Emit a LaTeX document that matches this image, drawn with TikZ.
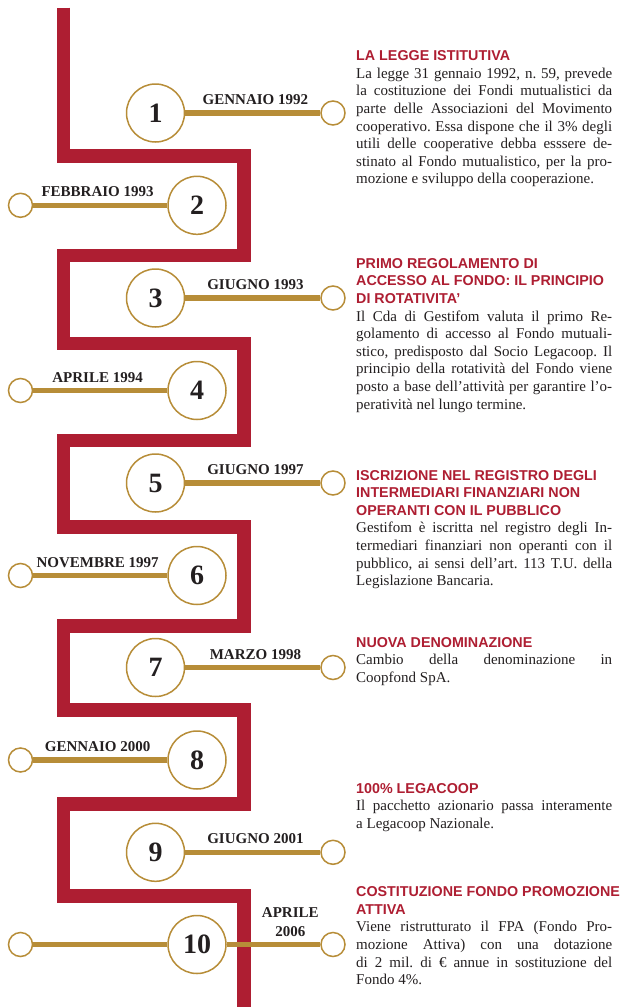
\documentclass[tikz,border=0pt]{standalone}
\usepackage{fontspec}
\setmainfont{Liberation Serif}
\newfontfamily\headfont{Liberation Sans}
\usepackage{tikz}
\usetikzlibrary{positioning}

\definecolor{coopred}{RGB}{174,30,50}
\definecolor{coopgold}{RGB}{183,141,56}
\definecolor{ink}{RGB}{35,31,32}
\newcommand{\evtitle}[1]{{\headfont\bfseries\fontsize{14.3}{17.6}\selectfont\color{coopred}#1}}
\frenchspacing

\begin{document}
\begin{tikzpicture}[x=1pt,y=-1pt,
      numcircle/.style={circle,draw=coopgold,line width=1.5pt,fill=white,
        minimum size=58pt,inner sep=0pt,text=ink,
        font=\fontsize{28}{28}\selectfont\bfseries},
      enddot/.style={circle,draw=coopgold,line width=1.5pt,fill=white,
        minimum size=24pt,inner sep=0pt},
      dateline/.style={draw=coopgold,line width=5.5pt},
      datelabel/.style={font=\fontsize{15}{19}\selectfont\bfseries,text=ink,
        inner sep=0pt,above=5.5pt,pos=0.52},
      event/.style={anchor=base west,text width=256pt,align=justify,inner sep=0pt,
        text=ink,font=\fontsize{15}{17.6}\selectfont,
        execute at begin node={\frenchspacing\tolerance=10000\hyphenpenalty=10000}}]
      \useasboundingbox (0,0) rectangle (627,1007);
      % the red path
      \draw[coopred,line width=13.5pt]
        (63.5,7.5) -- (63.5,156) -- (244,156) -- (244,255.3) -- (63.5,255.3)
        -- (63.5,343.3) -- (244,343.3) -- (244,440.3) -- (63.5,440.3)
        -- (63.5,527) -- (244,527) -- (244,626) -- (63.5,626)
        -- (63.5,710) -- (244,710) -- (244,804) -- (63.5,804)
        -- (63.5,896) -- (244,896) -- (244,1007);
      % steps
      \node[numcircle] (n1) at (155.5,113) {1};
      \node[enddot] (d1) at (333,113) {};
      \node[numcircle] (n2) at (197,205.3) {2};
      \node[enddot] (d2) at (20.5,205.3) {};
      \node[numcircle] (n3) at (155.5,298) {3};
      \node[enddot] (d3) at (333,298) {};
      \node[numcircle] (n4) at (197,390.5) {4};
      \node[enddot] (d4) at (20.5,390.5) {};
      \node[numcircle] (n5) at (155.5,483) {5};
      \node[enddot] (d5) at (333,483) {};
      \node[numcircle] (n6) at (197,575.5) {6};
      \node[enddot] (d6) at (20.5,575.5) {};
      \node[numcircle] (n7) at (155.5,667.5) {7};
      \node[enddot] (d7) at (333,667.5) {};
      \node[numcircle] (n8) at (197,760) {8};
      \node[enddot] (d8) at (20.5,760) {};
      \node[numcircle] (n9) at (155.5,852.3) {9};
      \node[enddot] (d9) at (333,852.3) {};
      \node[numcircle] (n10) at (197,944.5) {10};
      \node[enddot] (d10a) at (20.5,944.5) {};
      \node[enddot] (d10b) at (333,944.5) {};
      \path
        (n1) edge[dateline] node[datelabel] {GENNAIO 1992} (d1)
        (n2) edge[dateline] node[datelabel] {FEBBRAIO 1993} (d2)
        (n3) edge[dateline] node[datelabel] {GIUGNO 1993} (d3)
        (n4) edge[dateline] node[datelabel] {APRILE 1994} (d4)
        (n5) edge[dateline] node[datelabel] {GIUGNO 1997} (d5)
        (n6) edge[dateline] node[datelabel] {NOVEMBRE 1997} (d6)
        (n7) edge[dateline] node[datelabel] {MARZO 1998} (d7)
        (n8) edge[dateline] node[datelabel] {GENNAIO 2000} (d8)
        (n9) edge[dateline] node[datelabel] {GIUGNO 2001} (d9)
        (n10) edge[dateline] (d10a)
        (n10) edge[dateline] node[datelabel,align=center,pos=0.68] {APRILE\\2006} (d10b);
      % texts
      \node[event] (e1) at (356,60.7) {\evtitle{LA LEGGE ISTITUTIVA}\\
        La legge 31 gennaio 1992, n. 59, prevede\linebreak
        la costituzione dei Fondi mutualistici da\linebreak
        parte delle Associazioni del Movimento\linebreak
        cooperativo. Essa dispone che il 3\% degli\linebreak
        utili delle cooperative debba esssere de-\linebreak
        stinato al Fondo mutualistico, per la pro-\linebreak
        mozione e sviluppo della cooperazione.};
      \node[event] (e2) at (356,268.3) {\evtitle{PRIMO REGOLAMENTO DI\\
        ACCESSO AL FONDO: IL PRINCIPIO\\DI ROTATIVITA’}\\
        Il Cda di Gestifom valuta il primo Re-\linebreak
        golamento di accesso al Fondo mutuali-\linebreak
        stico, predisposto dal Socio Legacoop. Il\linebreak
        principio della rotatività del Fondo viene\linebreak
        posto a base dell’attività per garantire l’o-\linebreak
        peratività nel lungo termine.};
      \node[event] (e3) at (356,480) {\evtitle{ISCRIZIONE NEL REGISTRO DEGLI\\
        INTERMEDIARI FINANZIARI NON\\OPERANTI CON IL PUBBLICO}\\
        Gestifom è iscritta nel registro degli In-\linebreak
        termediari finanziari non operanti con il\linebreak
        pubblico, ai sensi dell’art. 113 T.U. della\linebreak
        Legislazione Bancaria.};
      \node[event] (e4) at (356,647.3) {\evtitle{NUOVA DENOMINAZIONE}\\
        Cambio della denominazione in\linebreak
        Coopfond SpA.};
      \node[event] (e5) at (356,793.3) {\evtitle{100\% LEGACOOP}\\
        Il pacchetto azionario passa interamente\linebreak
        a Legacoop Nazionale.};
      \node[event] (e6) at (356,896.7) {\evtitle{\mbox{COSTITUZIONE FONDO PROMOZIONE}\\
        ATTIVA}\\
        Viene ristrutturato il FPA (Fondo Pro-\linebreak
        mozione Attiva) con una dotazione\linebreak
        di 2 mil. di € annue in sostituzione del\linebreak
        Fondo 4\%.};
\end{tikzpicture}
\end{document}
